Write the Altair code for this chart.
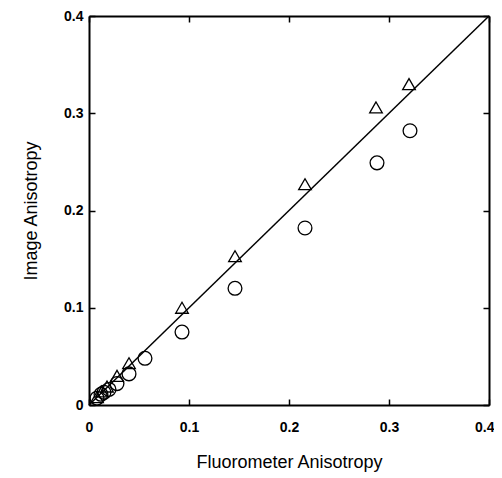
import altair as alt
import pandas as pd

# Triangles (image anisotropy, series A)
tri_x = [0.008, 0.013, 0.018, 0.028, 0.040, 0.093, 0.146, 0.216, 0.287, 0.320]
tri_y = [0.008, 0.014, 0.019, 0.030, 0.043, 0.100, 0.153, 0.227, 0.306, 0.330]
# Circles (series B)
circ_x = [0.008, 0.012, 0.015, 0.020, 0.028, 0.040, 0.056, 0.093, 0.146, 0.216, 0.288, 0.321]
circ_y = [0.007, 0.011, 0.013, 0.016, 0.022, 0.032, 0.048, 0.075, 0.120, 0.182, 0.249, 0.282]
# identity line
line_x = [0.0, 0.4]
line_y = [0.0, 0.4]
tick_values = [0, 0.1, 0.2, 0.3, 0.4]

df_tri = pd.DataFrame({"x": tri_x, "y": tri_y})
df_circ = pd.DataFrame({"x": circ_x, "y": circ_y})
df_line = pd.DataFrame({"x": line_x, "y": line_y})

FONT = "Liberation Sans"
sx = alt.Scale(domain=[0, 0.4], nice=False, zero=False)
sy = alt.Scale(domain=[0, 0.4], nice=False, zero=False)
inward = alt.ExprRef(expr="-6")

common = dict(
    values=tick_values, format="~g", grid=False,
    tickSize=inward, tickWidth=1.5, tickColor="black",
    domainWidth=2, domainColor="black",
    labelFont=FONT, labelFontSize=14, labelFontWeight="bold", labelColor="black",
    labelFlush=False, labelOverlap=False,
)
titles = dict(titleFont=FONT, titleFontSize=18, titleFontWeight="normal", titleColor="black")

x_bottom = alt.Axis(
    orient="bottom", title="Fluorometer Anisotropy",
    labelPadding=21, titlePadding=19,
    labelAlign={"condition": {"test": "datum.value >= 0.39", "value": "right"}, "value": "center"},
    labelOffset={"condition": {"test": "datum.value >= 0.39", "value": 5}, "value": 0},
    **common, **titles)
y_left = alt.Axis(orient="left", title="Image Anisotropy",
                  labelPadding=12, titlePadding=23, **common, **titles)
x_top = alt.Axis(orient="top", title=None, labels=False, **common)
y_right = alt.Axis(orient="right", title=None, labels=False, **common)

line = alt.Chart(df_line).mark_line(color="black", strokeWidth=1.5).encode(
    x=alt.X("x:Q", scale=sx, axis=x_top),
    y=alt.Y("y:Q", scale=sy, axis=y_right),
)

circles = alt.Chart(df_circ).mark_point(
    shape="circle", size=190, filled=False, color="black", strokeWidth=1.3, opacity=1
).encode(
    x=alt.X("x:Q", scale=sx, axis=x_bottom),
    y=alt.Y("y:Q", scale=sy, axis=y_left),
)

tris = alt.Chart(df_tri).mark_point(
    shape="triangle-up", size=160, filled=False, color="black", strokeWidth=1.3, opacity=1
).encode(
    x=alt.X("x:Q", scale=sx, axis=None),
    y=alt.Y("y:Q", scale=sy, axis=None),
)

chart = alt.layer(line, circles, tris).resolve_axis(
    x="independent", y="independent"
).properties(
    width=400, height=389,
    autosize=alt.AutoSizeParams(type="none"),
    padding={"left": 81, "top": 8, "right": 5, "bottom": 68},
).configure_view(stroke=None).configure(background="white")

chart.save("out.html", embed_options={"renderer": "svg", "actions": False})
